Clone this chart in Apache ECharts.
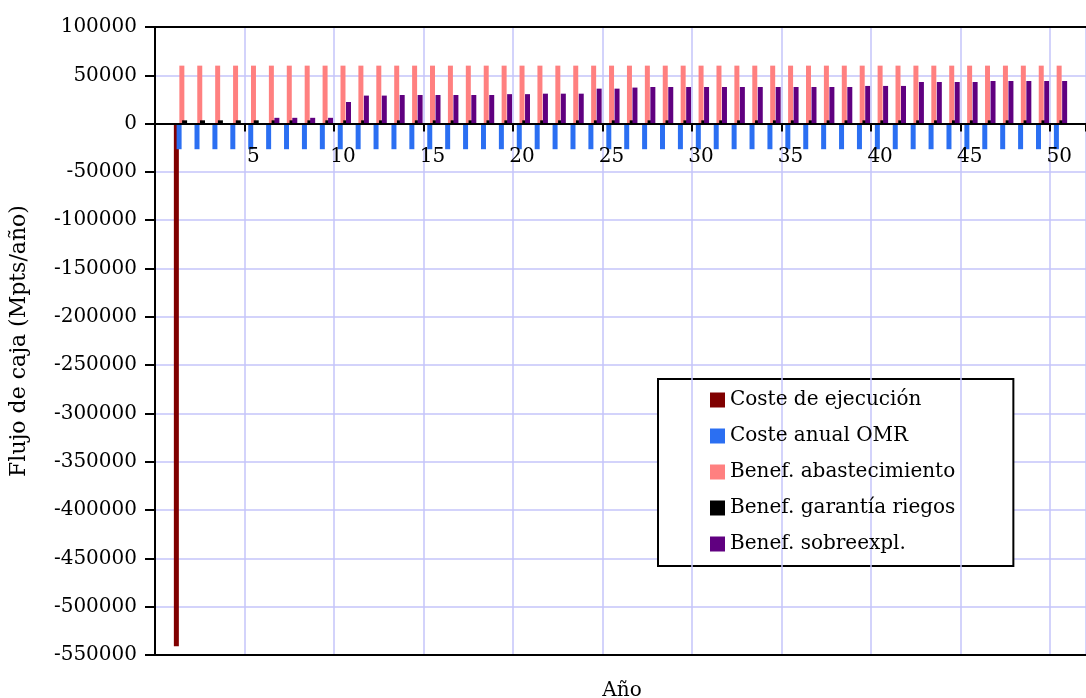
<!DOCTYPE html>
<html>
<head>
<meta charset="utf-8">
<script src="https://cdn.jsdelivr.net/npm/echarts@6/dist/echarts.min.js"></script>
<style>
html,body{margin:0;padding:0;background:#fff;}
#chart{width:1086px;height:698px;}
</style>
</head>
<body>
<div id="chart"></div>
<script>
const categories = ['0','1','2','3','4','5','6','7','8','9','10','11','12','13','14','15','16','17','18','19','20','21','22','23','24','25','26','27','28','29','30','31','32','33','34','35','36','37','38','39','40','41','42','43','44','45','46','47','48','49','50',''];
const yTicks = { min: -550000, max: 100000, interval: 50000 };
const seriesNames = ['Coste de ejecución','Coste anual OMR','Benef. abastecimiento','Benef. garantía riegos','Benef. sobreexpl.'];
const costeEjecucion = [null, -541000];
const costeOMR = [null,
 -26500,-26500,-26500,-26500,-26500,-26500,-26500,-26500,-26500,-26500,
 -26500,-26500,-26500,-26500,-26500,-26500,-26500,-26500,-26500,-26500,
 -26500,-26500,-26500,-26500,-26500,-26500,-26500,-26500,-26500,-26500,
 -26500,-26500,-26500,-26500,-26500,-26500,-26500,-26500,-26500,-26500,
 -26500,-26500,-26500,-26500,-26500,-26500,-26500,-26500,-26500,-26500];
const benefAbast = [null,
 60000,60000,60000,60000,60000,60000,60000,60000,60000,60000,
 60000,60000,60000,60000,60000,60000,60000,60000,60000,60000,
 60000,60000,60000,60000,60000,60000,60000,60000,60000,60000,
 60000,60000,60000,60000,60000,60000,60000,60000,60000,60000,
 60000,60000,60000,60000,60000,60000,60000,60000,60000,60000];
const benefRiegos = [null,
 3400,3400,3400,3400,3400,3400,3400,3400,3400,3400,
 3400,3400,3400,3400,3400,3400,3400,3400,3400,3400,
 3400,3400,3400,3400,3400,3400,3400,3400,3400,3400,
 3400,3400,3400,3400,3400,3400,3400,3400,3400,3400,
 3400,3400,3400,3400,3400,3400,3400,3400,3400,3400];
const benefSobre = [null,
 0,0,0,0,0,6000,6000,6000,6000,22400,
 29000,29000,29600,29600,29600,29600,29600,29600,30500,30500,
 31000,31000,31000,36200,36200,37300,37900,37900,37900,37900,
 37900,37900,37900,37900,37900,37900,37900,37900,39000,39000,
 39000,43100,43100,43100,43100,44100,44100,44100,44100,44100];
const colors = ['#800000','#2b6ff2','#ff8080','#000000','#600080'];

const FONT = 'DejaVu Serif';
const GRID = { left: 155, top: 27, width: 943, height: 628 };
const chart = echarts.init(document.getElementById('chart'));
const every5 = (i) => i > 0 && i % 5 === 0 && i <= 50;
const dataSets = [costeEjecucion, costeOMR, benefAbast, benefRiegos, benefSobre];
const frameAxis = (pos) => ({
  type: 'category', data: categories, position: pos, z: 5,
  axisLine: { onZero: false, lineStyle: { color: '#000', width: 2 } },
  axisTick: { show: false }, axisLabel: { show: false }, splitLine: { show: false }
});

const option = {
  animation: false,
  backgroundColor: '#ffffff',
  title: {
    text: 'Año', left: 617, top: 676, textAlign: 'center',
    textStyle: { fontFamily: FONT, fontSize: 20, fontWeight: 'normal', color: '#000' }
  },
  grid: Object.assign({ show: false }, GRID),
  legend: {
    orient: 'vertical', left: 658, top: 379,
    backgroundColor: '#fff', borderColor: '#000', borderWidth: 2, borderRadius: 0,
    padding: [11, 58, 12, 52],
    itemWidth: 15, itemHeight: 15, itemGap: 16,
    icon: 'rect',
    textStyle: { fontFamily: FONT, fontSize: 20, lineHeight: 20, color: '#000' },
    data: seriesNames
  },
  xAxis: [{
    type: 'category', data: categories, boundaryGap: true, position: 'bottom', offset: 0, z: 4,
    axisLine: { onZero: false, lineStyle: { color: '#000', width: 2 } },
    axisTick: { show: true, interval: every5, length: 8, lineStyle: { color: '#000', width: 2 } },
    axisLabel: { interval: every5, margin: 23, fontFamily: FONT, fontSize: 20, color: '#000' },
    splitLine: { show: true, interval: every5, lineStyle: { color: '#c4c4fa', width: 1.5 } }
  }, frameAxis('top'), frameAxis('bottom')],
  yAxis: {
    type: 'value', min: yTicks.min, max: yTicks.max, interval: yTicks.interval,
    name: 'Flujo de caja (Mpts/año)', nameLocation: 'middle', nameGap: 125,
    nameTextStyle: { fontFamily: FONT, fontSize: 22, color: '#000' },
    axisLine: { show: true, lineStyle: { color: '#000', width: 2 } },
    axisTick: { show: true, length: 10, lineStyle: { color: '#000', width: 2 } },
    axisLabel: { margin: 18, fontFamily: FONT, fontSize: 20, color: '#000', formatter: (v) => String(v) },
    splitLine: { show: true, lineStyle: { color: '#c4c4fa', width: 1.5 } }
  },
  series: seriesNames.map((n, k) => ({
    name: n, type: 'bar', data: dataSets[k], xAxisIndex: 0,
    barWidth: 5, barGap: '-45%',
    itemStyle: { color: colors[k] }
  }))
};
chart.setOption(option);
// move the category axis (line, ticks, labels) onto the zero line
const zeroY = chart.convertToPixel({ yAxisIndex: 0 }, 0);
const bottomY = GRID.top + GRID.height;
option.xAxis[0].offset = zeroY - bottomY;
chart.setOption(option);
</script>
</body>
</html>
